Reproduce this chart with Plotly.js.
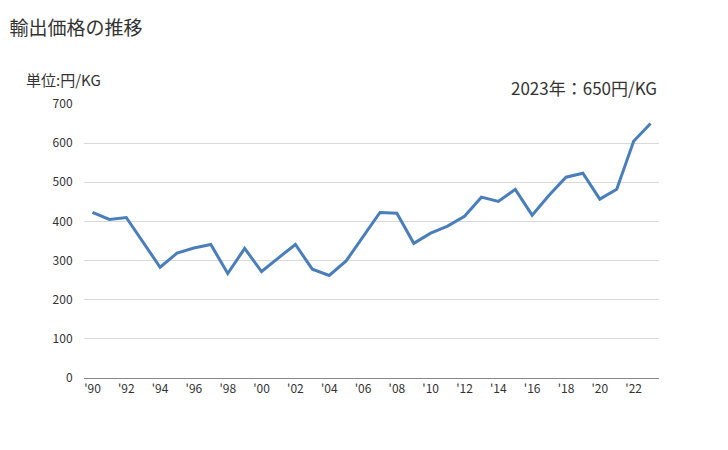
<!DOCTYPE html>
<html>
<head>
<meta charset="utf-8">
<script src="https://cdn.plot.ly/plotly-3.0.1.min.js"></script>
<style>html,body{margin:0;padding:0;background:#fff;}#chart{width:728px;height:450px;}</style>
</head>
<body>
<div id="chart"></div>
<script>
const years = [1990,1991,1992,1993,1994,1995,1996,1997,1998,1999,2000,2001,2002,2003,2004,2005,2006,2007,2008,2009,2010,2011,2012,2013,2014,2015,2016,2017,2018,2019,2020,2021,2022,2023];
const prices = [423,405,410,348,283,319,332,341,267,331,272,307,341,278,262,299,362,423,421,344,370,388,413,462,451,482,416,467,513,523,457,482,605,650];
const tickYears = [1990,1992,1994,1996,1998,2000,2002,2004,2006,2008,2010,2012,2014,2016,2018,2020,2022];
const tickLabels = ["'90","'92","'94","'96","'98","'00","'02","'04","'06","'08","'10","'12","'14","'16","'18","'20","'22"];
const yTicks = [0,100,200,300,400,500,600,700];

const font = "Noto Sans CJK JP, sans-serif";
Plotly.newPlot('chart', [{
  x: years, y: prices, type: 'scatter', mode: 'lines',
  line: {color: '#4a7ebb', width: 3}, hoverinfo: 'x+y'
}], {
  width: 728, height: 450,
  margin: {l: 84, r: 69, t: 104, b: 72},
  paper_bgcolor: '#fff', plot_bgcolor: '#fff',
  showlegend: false,
  font: {family: font, color: '#333', size: 12},
  title: {text: '輸出価格の推移', x: 0.013, xanchor: 'left', y: 0.937, yanchor: 'middle', font: {family: font, size: 19, color: '#333'}},
  xaxis: {range: [1989.5, 2023.5], tickvals: tickYears, ticktext: tickLabels, showgrid: false, zeroline: false,
    showline: true, linecolor: '#888', linewidth: 1, ticks: '', tickfont: {size: 12, color: '#333'}, fixedrange: true},
  yaxis: {range: [0, 700], tickvals: yTicks, showgrid: true, gridcolor: '#d9d9d9', gridwidth: 1, zeroline: false,
    showline: false, ticks: 'outside', ticklen: 8, tickcolor: 'rgba(0,0,0,0)', tickfont: {size: 12, color: '#333'}, fixedrange: true},
  annotations: [
    {text: '単位:円/KG', xref: 'paper', yref: 'paper', x: -0.105, y: 1.09, xanchor: 'left', yanchor: 'middle', showarrow: false, font: {family: font, size: 15, color: '#333'}},
    {text: '2023年：650円/KG', xref: 'paper', yref: 'paper', x: 1.0, y: 1.06, xanchor: 'right', yanchor: 'middle', showarrow: false, font: {family: font, size: 17, color: '#333'}}
  ]
}, {displayModeBar: false, staticPlot: true});
</script>
</body>
</html>
